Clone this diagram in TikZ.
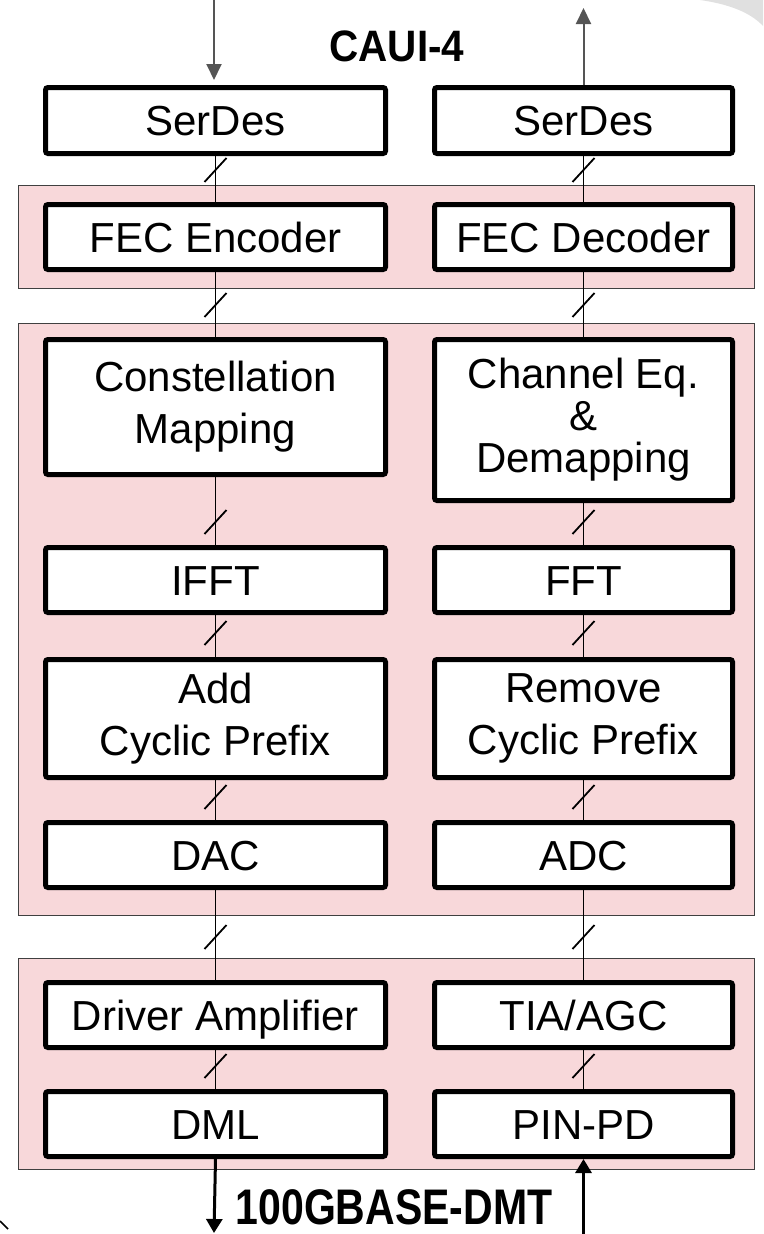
\documentclass[tikz,border=0pt]{standalone}
\usepackage{fontspec}
\setmainfont{Liberation Sans}
\usetikzlibrary{arrows.meta}
\definecolor{pinkbg}{RGB}{248,216,218}
\definecolor{arrgray}{RGB}{85,85,85}
\begin{document}
\begin{tikzpicture}[x=1pt,y=-1pt,
  blk/.style={draw=black, line width=5pt, fill=white, rounded corners=2.5pt,
    inner sep=0pt, align=center, font=\fontsize{42}{52}\selectfont},
  lblk/.style={blk, minimum width=340pt},
  rblk/.style={blk, minimum width=298pt},
  one/.style={text height=30pt, text depth=0pt},
  grp/.style={draw=black!75, line width=1.2pt, fill=pinkbg, inner sep=0pt,
    minimum width=736pt},
  conn/.style={line width=1.5pt},
  toparr/.style={line width=2pt, draw=arrgray, -{Triangle[width=15pt,length=16pt]}},
  botarr/.style={line width=3pt, -{Triangle[width=16pt,length=14pt]}},
  busmark/.pic={\draw[line width=1.8pt] (-11,12) -- (11,-12);},
  lbl/.style={inner sep=0pt, font=\bfseries\fontsize{44}{44}\selectfont}
]
\useasboundingbox (0,0) rectangle (763,1234);

% corner artefacts
\fill[black!12] (700,0) .. controls (728,4) and (750,12) .. (763,26) -- (763,0) -- cycle;
\draw[line width=1.5pt] (0,1221) -- (8,1229);

% groups
\node[grp, minimum height=103pt] (g1) at (386.5,237) {};
\node[grp, minimum height=592pt] (g2) at (386.5,619.5) {};
\node[grp, minimum height=211pt] (g3) at (386.5,1064) {};

% left column
\node[lblk, one, minimum height=66pt]  (serL)  at (215.5,120.5) {SerDes};
\node[lblk, one, minimum height=65pt]  (fecL)  at (215.5,237)   {FEC Encoder};
\node[lblk, minimum height=135pt] (conL)  at (215.5,407)   {Constellation\\Mapping};
\node[lblk, one, minimum height=65pt]  (ifft)  at (215.5,580)   {IFFT};
\node[lblk, minimum height=118pt] (addL)  at (215.5,718.5) {Add\\Cyclic Prefix};
\node[lblk, one, minimum height=65pt]  (dac)   at (215.5,855)   {DAC};
\node[lblk, one, minimum height=65pt]  (drv)   at (215.5,1015)  {Driver Amplifier};
\node[lblk, one, minimum height=65pt]  (dml)   at (215.5,1124)  {DML};

% right column
\node[rblk, one, minimum height=66pt]  (serR)  at (583.5,120.5) {SerDes};
\node[rblk, one, minimum height=65pt]  (fecR)  at (583.5,237)   {FEC Decoder};
\node[rblk, minimum height=161pt, font=\fontsize{42}{42}\selectfont] (chR) at (583.5,420) {Channel Eq.\\\&\\Demapping};
\node[rblk, one, minimum height=65pt]  (fft)   at (583.5,580)   {FFT};
\node[rblk, minimum height=118pt] (remR)  at (583.5,718.5) {Remove\\Cyclic Prefix};
\node[rblk, one, minimum height=65pt]  (adc)   at (583.5,855)   {ADC};
\node[rblk, one, minimum height=65pt]  (tia)   at (583.5,1015)  {TIA/AGC};
\node[rblk, one, minimum height=65pt]  (pin)   at (583.5,1124)  {PIN-PD};

% connectors left
\draw[conn] (serL.south) -- (fecL.north);
\draw[conn] (fecL.south) -- (conL.north);
\draw[conn] (conL.south) -- (ifft.north);
\draw[conn] (ifft.south) -- (addL.north);
\draw[conn] (addL.south) -- (dac.north);
\draw[conn] (dac.south) -- (drv.north);
\draw[conn] (drv.south) -- (dml.north);
% connectors right
\draw[conn] (serR.south) -- (fecR.north);
\draw[conn] (fecR.south) -- (chR.north);
\draw[conn] (chR.south) -- (fft.north);
\draw[conn] (fft.south) -- (remR.north);
\draw[conn] (remR.south) -- (adc.north);
\draw[conn] (adc.south) -- (tia.north);
\draw[conn] (tia.south) -- (pin.north);

% bus marks
\foreach \yy in {170,305,522,633,797,937,1066} {
  \path (215.5,\yy) pic{busmark};
  \path (583.5,\yy) pic{busmark};
}

% external arrows
\coordinate (inT) at (214,0);
\coordinate (outT) at (583.5,8);
\coordinate (outB) at (214,1233);
\coordinate (inB) at (583.5,1234);
\draw[toparr, shorten >=5pt] (inT) -- (inT |- serL.north);
\draw[toparr] (serR.north) -- (outT);
\draw[botarr] (dml.south) -- (outB);
\draw[botarr] (inB) -- (pin.south);

% labels
\node[lbl] (caui) at (397,46) {\scalebox{0.92}[1]{CAUI-4}};
\node[lbl, font=\bfseries\fontsize{50}{50}\selectfont] (dmt) at (394,1207) {\scalebox{0.82}[1]{100GBASE-DMT}};
\end{tikzpicture}
\end{document}
